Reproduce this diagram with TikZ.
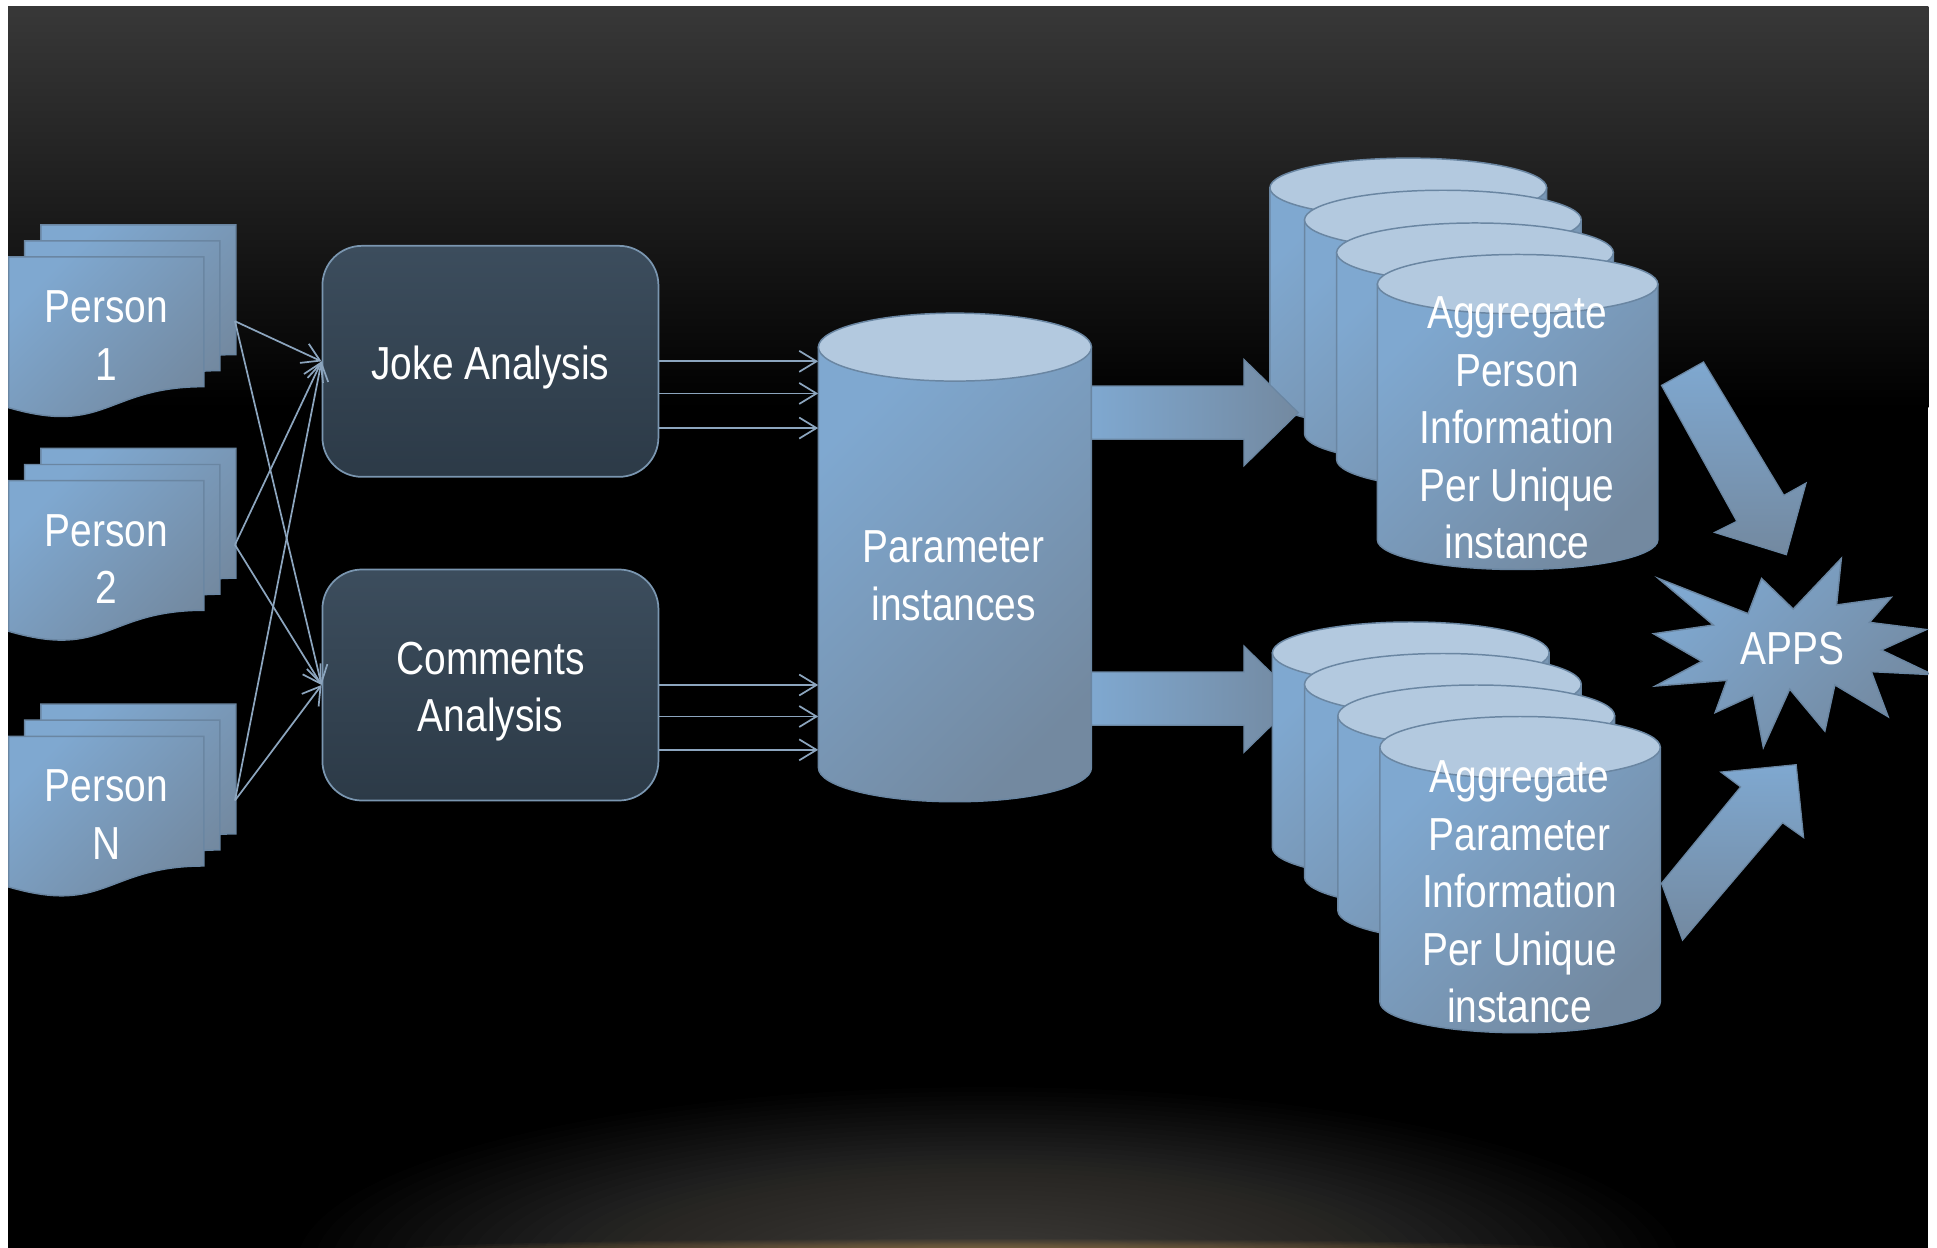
\documentclass[tikz,border=0pt]{standalone}
\usepackage{fontspec}
\setmainfont{Liberation Sans}[FakeStretch=0.84]
\usetikzlibrary{arrows.meta}
\definecolor{bgtop}{HTML}{383838}
\definecolor{blueA}{HTML}{7FA8D0}
\definecolor{blueB}{HTML}{7389A0}
\definecolor{topc}{HTML}{B3C9DF}
\definecolor{edgec}{HTML}{6A86A2}
\definecolor{boxA}{HTML}{3C4D5D}
\definecolor{boxB}{HTML}{2C3A47}
\definecolor{boxedge}{HTML}{7A96B0}
\definecolor{connc}{HTML}{8CA5BE}
\definecolor{glowc}{HTML}{D0CCC6}
\definecolor{orangec}{HTML}{C89A58}
\tikzset{
  lbl/.style={text=white, align=center, inner sep=0pt, font=\fontsize{37.5bp}{46.5bp}\selectfont},
  grp/.style={inner sep=0pt, minimum width=183bp, minimum height=156bp},
  boxst/.style={draw=boxedge, line width=1.4bp, rounded corners=32bp, top color=boxA, bottom color=boxB,
                minimum width=272bp, minimum height=187bp, inner sep=0pt},
  conn/.style={draw=connc, line width=1.4bp, -{Straight Barb[length=14bp,width=17bp,line width=1.4bp]}},
  shapebody/.style={draw=edgec, line width=1.2bp, top color=blueA, bottom color=blueB, shading angle=45},
  cyltop/.style={draw=edgec, line width=1.2bp, fill=topc},
  blockh/.style={draw=edgec, line width=1bp, left color=blueA, right color=blueB},
  blockv/.style={draw=edgec, line width=1bp, top color=blueA, bottom color=blueB},
}
\newcommand\cyl[5]{% x, y of top-ellipse centre, width, body height, y radius
  \pgfmathsetmacro\cylrx{#3/2}%
  \path[shapebody] (#1,#2) -- (#1,{#2+#4}) arc[start angle=180,end angle=0,x radius=\cylrx,y radius=#5] -- ({#1+#3},#2) -- cycle;
  \path[cyltop] ({#1+\cylrx},#2) ellipse[x radius=\cylrx,y radius=#5];
}
\newcommand\docsh[2]{% x, y
  \path[shapebody] (#1,#2) -- ({#1+158},#2) -- ({#1+158},{#2+105}) .. controls ({#1+79},{#2+105}) and ({#1+79},{#2+145}) .. (#1,{#2+122}) -- cycle;
}
\newcommand\persongroup[3]{% top, name, text
  \docsh{33}{#1}\docsh{20}{#1+13}\docsh{7}{#1+26}
  \node[grp] (#2) at (98.5,{#1+78}) {};
  \node[lbl] (#2t) at (86,{#1+89.5}) {#3};
}
\begin{document}
\begin{tikzpicture}[x=1bp,y=-1bp]
\useasboundingbox (0,0) rectangle (1568,1010);
\fill[white] (0,0) rectangle (1568,1010);
\begin{scope}
\clip (6.5,5) rectangle (1561,1010);
\fill[black] (6.5,5) rectangle (1561,1010);
\shade[top color=bgtop, bottom color=black] (6.5,5) rectangle (1561,330);
% floor glow
\foreach \i in {0,...,39}{
  \fill[glowc, fill opacity=0.013] (800,1025) ellipse[x radius={560*(1-\i/40)}, y radius={145*(1-\i/40)}];
}
\foreach \i in {0,...,11}{
  \fill[orangec, fill opacity=0.05] (800,1012) ellipse[x radius={480*(1-\i/12)}, y radius={9*(1-\i/12)}];
}

% persons
\persongroup{182}{p1}{Person\\1}
\persongroup{363}{p2}{Person\\2}
\persongroup{570}{pn}{Person\\N}

% analysis boxes
\node[boxst] (joke) at (397,292.5) {};
\node[lbl] (jokel) at (397,297.8) {Joke Analysis};
\node[boxst] (comm) at (397,554.5) {};
\node[lbl] (comml) at (397,559.8) {Comments\\Analysis};

\foreach \s in {p1,p2,pn}{
  \foreach \t in {joke,comm}{
    \draw[conn] (\s.east) -- (\t.west);
  }
}

% parameter cylinder
\node[inner sep=0pt, minimum width=221bp, minimum height=395bp] (param) at (773,451.5) {};
\foreach \dy/\k in {0/a,-26/b,-54/c}{
  \coordinate (j\k) at ([yshift=\dy bp]joke.east);
  \draw[conn] (j\k) -- (j\k -| param.west);
}
\foreach \dy/\k in {0/a,-25.5/b,-52.5/c}{
  \coordinate (c\k) at ([yshift=\dy bp]comm.east);
  \draw[conn] (c\k) -- (c\k -| param.west);
}
\cyl{662.5}{281}{221}{340.5}{27.5}
\node[lbl] (paraml) at (772,466) {Parameter\\instances};

% upper stack
\cyl{1028}{152}{224}{170}{24}
\cyl{1056}{178}{224}{173}{24}
\cyl{1082}{204.5}{224}{167.5}{24}
\cyl{1115}{230}{227}{207}{24}
\node[lbl] (aggp) at (1228,346.5) {Aggregate\\Person\\Information\\Per Unique\\instance};
\path[blockh] (883.5,312.5) -- (1007,312.5) -- (1007,291) -- (1051,334) -- (1007,377) -- (1007,355.6) -- (883.5,355.6) -- cycle;

% lower stack
\path[blockh] (883.5,544) -- (1007,544) -- (1007,523) -- (1051,566) -- (1007,609) -- (1007,587) -- (883.5,587) -- cycle;
\path[blockv] (1345,715) -- (1409,637) -- (1393,625) -- (1454,619) -- (1460,678) -- (1443,666) -- (1362,761) -- cycle;
\cyl{1030}{528.5}{224}{157.5}{25}
\cyl{1056}{554}{224}{156}{25}
\cyl{1083}{579.5}{224}{157.5}{25}
\cyl{1117}{605}{227}{206}{25}
\node[lbl] (aggq) at (1230,722) {Aggregate\\Parameter\\Information\\Per Unique\\instance};

% arrow to apps from upper stack
\path[blockv] (1345,312) -- (1379,293) -- (1444,401) -- (1462,391) -- (1446,449) -- (1388,431) -- (1406,422) -- cycle;

% APPS explosion
\begin{scope}[shift={(1338.6,452)}, xscale=226, yscale=153]
\path[shapebody] (0.5,0.2685) -- (0.6723,0) -- (0.6553,0.2465) -- (0.8509,0.2064) -- (0.7732,0.3387) -- (0.9767,0.3767) -- (0.8151,0.4850) -- (1,0.6153) -- (0.7795,0.5992) -- (0.8400,0.8377) -- (0.6491,0.6693) -- (0.6133,0.9137) -- (0.4876,0.6914) -- (0.3929,1) -- (0.3572,0.7235) -- (0.2205,0.8156) -- (0.2624,0.6452) -- (0.00625,0.6753) -- (0.1723,0.5451) -- (0,0.3988) -- (0.2142,0.3526) -- (0.0171,0.1063) -- (0.3385,0.2926) -- (0.3867,0.1063) -- cycle;
\end{scope}
\node[lbl] (apps) at (1451,525) {APPS};
\end{scope}
\end{tikzpicture}
\end{document}
